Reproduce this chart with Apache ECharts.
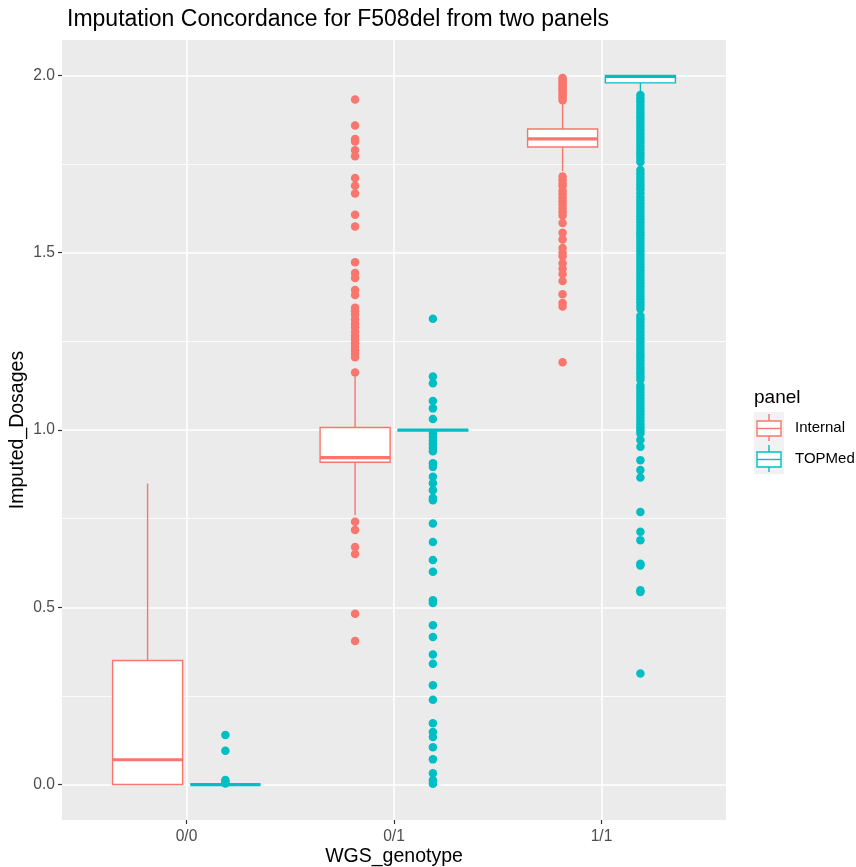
<!DOCTYPE html>
<html>
<head>
<meta charset="utf-8">
<script src="https://cdn.jsdelivr.net/npm/echarts@6/dist/echarts.min.js"></script>
<style>
html,body{margin:0;padding:0;background:#fff;}
#chart{width:856px;height:867px;}
</style>
</head>
<body>
<div id="chart"></div>
<script>
// ---- Data ----
const categories = ['0/0', '0/1', '1/1'];
const panels = ['Internal', 'TOPMed'];
const yTicks = [0, 0.5, 1.0, 1.5, 2.0];
const yMinorTicks = [0.25, 0.75, 1.25, 1.75];

// box stats: [whiskerLow, q1, median, q3, whiskerHigh] per category
const internalBoxes = [
  [0, 0, 0.07, 0.35, 0.849],
  [0.76, 0.909, 0.922, 1.007, 1.15],
  [1.73, 1.798, 1.821, 1.849, 1.92]
];
const topmedBoxes = [
  [0, 0, 0, 0, 0],
  [0.998, 0.998, 1.0, 1.0, 1.0],
  [1.948, 1.979, 1.997, 2.0, 2.0]
];

// outliers per category
const internalOut00 = [];
const internalOut01 = [1.932, 1.859, 1.821, 1.814, 1.789, 1.772, 1.711, 1.689, 1.667, 1.607, 1.574,
  1.473, 1.443, 1.429, 1.395, 1.381, 1.345, 1.335, 1.325, 1.312, 1.300, 1.290, 1.277, 1.265, 1.255,
  1.245, 1.235, 1.225, 1.215, 1.205, 1.162, 0.741, 0.718, 0.670, 0.650, 0.482, 0.405];
const internalOut11 = [1.993, 1.988, 1.982, 1.976, 1.970, 1.964, 1.958, 1.951, 1.944, 1.937, 1.930,
  1.715, 1.705, 1.695, 1.688, 1.675, 1.665, 1.655, 1.645, 1.635, 1.625, 1.615, 1.605, 1.584,
  1.556, 1.537, 1.513, 1.500, 1.490, 1.470, 1.455, 1.440, 1.420, 1.383, 1.358, 1.348, 1.191];
const topmedOut00 = [0.140, 0.095, 0.013, 0.008, 0.003];
const topmedOut01 = [1.314, 1.151, 1.132, 1.082, 1.061, 1.031, 0.990, 0.980, 0.970, 0.960, 0.950,
  0.940, 0.906, 0.896, 0.868, 0.850, 0.830, 0.808, 0.802, 0.736, 0.684, 0.633, 0.600, 0.520, 0.512,
  0.449, 0.416, 0.367, 0.341, 0.280, 0.239, 0.173, 0.148, 0.134, 0.105, 0.071, 0.032, 0.012, 0.002];
const topmedOut11 = [1.945, 1.936, 1.927, 1.918, 1.909, 1.900, 1.891, 1.882, 1.873, 1.864, 1.855,
  1.846, 1.837, 1.828, 1.819, 1.810, 1.801, 1.792, 1.783, 1.774, 1.765, 1.756,
  1.733, 1.724, 1.715, 1.706, 1.697, 1.688, 1.679, 1.668, 1.657,
  1.648, 1.639, 1.630, 1.621, 1.612, 1.603, 1.594, 1.585, 1.576, 1.567, 1.558, 1.549, 1.540, 1.531,
  1.522, 1.513, 1.504, 1.495, 1.486, 1.477, 1.468, 1.459, 1.450, 1.441, 1.432, 1.423, 1.414, 1.405,
  1.396, 1.387, 1.378, 1.369, 1.360, 1.351, 1.342,
  1.322, 1.313, 1.304, 1.295, 1.286, 1.277, 1.268, 1.259, 1.250, 1.241, 1.232, 1.223, 1.214, 1.205,
  1.196, 1.187, 1.178, 1.169, 1.160, 1.151, 1.142,
  1.125, 1.116, 1.107, 1.098, 1.089, 1.080, 1.071, 1.062, 1.053, 1.044, 1.035, 1.026, 1.017, 1.008,
  0.999, 0.990, 0.972, 0.953, 0.915, 0.887, 0.866, 0.769, 0.713, 0.689, 0.623, 0.618, 0.548, 0.543, 0.313];

const internalOutliers = [internalOut00, internalOut01, internalOut11];
const topmedOutliers = [topmedOut00, topmedOut01, topmedOut11];

// ---- Styling ----
const colors = {Internal: '#F8766D', TOPMed: '#00BFC4'};
const dodge = 0.1875;
const boxW = 0.3375;

function boxData(boxes, off) {
  return boxes.map((b, i) => [i + 1 + off].concat(b));
}
function outData(outs, off) {
  const d = [];
  outs.forEach((arr, i) => arr.forEach(v => d.push([i + 1 + off, v])));
  return d;
}

function makeRender(color) {
  return function (params, api) {
    const x = api.value(0);
    const lo = api.coord([x, api.value(1)]);
    const q1 = api.coord([x, api.value(2)]);
    const med = api.coord([x, api.value(3)]);
    const q3 = api.coord([x, api.value(4)]);
    const hi = api.coord([x, api.value(5)]);
    const w = api.size([boxW, 0])[0];
    const cx = lo[0];
    const lw = 1.4;
    return {
      type: 'group',
      children: [
        {type: 'line', shape: {x1: cx, y1: q3[1], x2: cx, y2: hi[1]}, style: {stroke: color, lineWidth: lw}},
        {type: 'line', shape: {x1: cx, y1: q1[1], x2: cx, y2: lo[1]}, style: {stroke: color, lineWidth: lw}},
        {type: 'rect', shape: {x: cx - w / 2, y: q3[1], width: w, height: q1[1] - q3[1]},
          style: {fill: '#FFFFFF', stroke: color, lineWidth: lw}},
        {type: 'line', shape: {x1: cx - w / 2, y1: med[1], x2: cx + w / 2, y2: med[1]},
          style: {stroke: color, lineWidth: 3.2}}
      ]
    };
  };
}

const chart = echarts.init(document.getElementById('chart'), null, {renderer: 'canvas'});
const font = 'Liberation Sans, Arial, Helvetica, sans-serif';

const legendX = 754, legendY = 412, keySize = 31;
function legendKey(i, color) {
  const y0 = legendY + i * keySize;
  const cx = legendX + 15;
  return [
    {type: 'rect', shape: {x: legendX, y: y0, width: 30, height: keySize}, style: {fill: '#F2F2F2'}},
    {type: 'line', shape: {x1: cx, y1: y0 + 2, x2: cx, y2: y0 + keySize - 2}, style: {stroke: color, lineWidth: 1.4}},
    {type: 'rect', shape: {x: legendX + 3, y: y0 + 9, width: 24, height: 15}, style: {fill: '#fff', stroke: color, lineWidth: 1.4}},
    {type: 'line', shape: {x1: legendX + 3, y1: y0 + 16.5, x2: legendX + 27, y2: y0 + 16.5}, style: {stroke: color, lineWidth: 1.4}},
    {type: 'text', x: legendX + 41, y: y0 + 16, style: {text: panels[i], font: '15px ' + font, fill: '#000', verticalAlign: 'middle'}}
  ];
}

const option = {
  backgroundColor: '#FFFFFF',
  animation: false,
  title: {
    text: 'Imputation Concordance for F508del from two panels',
    left: 62, top: 3,
    textStyle: {fontFamily: font, fontSize: 23, fontWeight: 'normal', color: '#000'}
  },
  grid: {left: 62, right: 130, top: 40, bottom: 47, show: true, backgroundColor: '#EBEBEB', borderWidth: 0,
    containLabel: false, outerBoundsMode: 'none'},
  xAxis: {
    type: 'value', min: 0.4, max: 3.6,
    name: 'WGS_genotype', nameLocation: 'middle', nameGap: 27, nameMoveOverlap: false,
    nameTextStyle: {fontFamily: font, fontSize: 19.5, color: '#000'},
    axisLine: {show: false, onZero: false},
    axisTick: {show: true, length: 4, lineStyle: {color: '#333', width: 1.2}, customValues: [1, 2, 3]},
    axisLabel: {customValues: [1, 2, 3], formatter: v => categories[Math.round(v) - 1],
      fontFamily: font, fontSize: 15.6, color: '#4D4D4D', margin: 9},
    splitLine: {show: true, lineStyle: {color: '#FFFFFF', width: 1.6}}
  },
  yAxis: [{
    type: 'value', min: -0.1, max: 2.1,
    name: 'Imputed_Dosages', nameLocation: 'middle', nameGap: 34, nameRotate: 90, nameMoveOverlap: false,
    nameTextStyle: {fontFamily: font, fontSize: 19.5, color: '#000'},
    axisLine: {show: false, onZero: false},
    axisTick: {show: true, length: 4, lineStyle: {color: '#333', width: 1.2}, customValues: yTicks},
    axisLabel: {customValues: yTicks, formatter: v => v.toFixed(1),
      fontFamily: font, fontSize: 15.6, color: '#4D4D4D', margin: 7},
    splitLine: {show: true, lineStyle: {color: '#FFFFFF', width: 1.6}}
  }, {
    type: 'value', min: -0.1, max: 2.1, position: 'left',
    axisLine: {show: false, onZero: false}, axisLabel: {show: false, customValues: yMinorTicks},
    axisTick: {show: false, customValues: yMinorTicks},
    splitLine: {show: true, lineStyle: {color: '#FFFFFF', width: 0.8}}
  }],
  series: [
    {type: 'custom', name: 'Internal', renderItem: makeRender(colors.Internal),
      data: boxData(internalBoxes, -dodge), encode: {x: 0, y: [1, 2, 3, 4, 5]}, z: 2},
    {type: 'custom', name: 'TOPMed', renderItem: makeRender(colors.TOPMed),
      data: boxData(topmedBoxes, dodge), encode: {x: 0, y: [1, 2, 3, 4, 5]}, z: 2},
    {type: 'scatter', data: outData(internalOutliers, -dodge), symbolSize: 8.5,
      itemStyle: {color: colors.Internal, opacity: 1}, z: 3},
    {type: 'scatter', data: outData(topmedOutliers, dodge), symbolSize: 8.5,
      itemStyle: {color: colors.TOPMed, opacity: 1}, z: 3}
  ],
  graphic: [
    {type: 'text', x: legendX, y: 398, style: {text: 'panel', font: '19px ' + font, fill: '#000', verticalAlign: 'middle'}}
  ].concat(legendKey(0, colors.Internal), legendKey(1, colors.TOPMed))
};
chart.setOption(option);
</script>
</body>
</html>
